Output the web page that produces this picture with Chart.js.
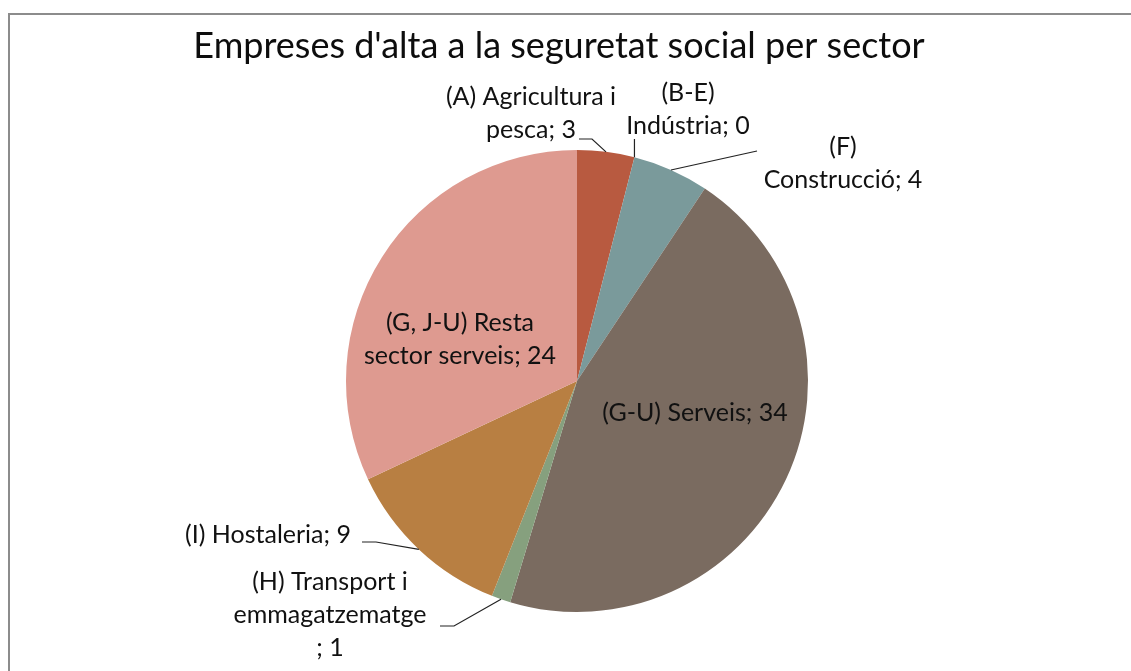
<!DOCTYPE html>
<html>
<head>
<meta charset="utf-8">
<script src="https://cdn.jsdelivr.net/npm/chart.js@4/dist/chart.umd.min.js"></script>
<style>
  html, body { margin: 0; padding: 0; background: #fff; }
  #wrap { position: relative; width: 1131px; height: 671px; }
</style>
</head>
<body>
<div id="wrap"><canvas id="sectorChart" width="1131" height="671"></canvas></div>
<script>
// Dades del gràfic
const titol = "Empreses d'alta a la seguretat social per sector";
const sectors = [
    '(A) Agricultura i\npesca',
    '(B-E)\nIndústria',
    '(F)\nConstrucció',
    '(G-U) Serveis',
    '(H) Transport i\nemmagatzematge\n',
    '(I) Hostaleria',
    '(G, J-U) Resta\nsector serveis'
];
const empreses = [3, 0, 4, 34, 1, 9, 24];
const colors = ['#b85a40', '#4f81bd', '#7a9a9b', '#7a6b60', '#86a07e', '#b87f42', '#de9a90'];

// Posició de les etiquetes (estil, no dades)
const etiquetes = [
    { x: 531, y: 97, leader: [[579, 139], [592, 139]] },
    { x: 688, y: 93, leader: [['edge', 139]] },
    { x: 843, y: 147, leader: [[757, 151]] },
    { x: 695, y: 413, leader: null },
    { x: 330, y: 582, leader: [[440, 626], [454, 626]] },
    { x: 268, y: 535, leader: [[362, 542], [376, 542]] },
    { x: 460, y: 323, leader: null }
];

const etiquetesPlugin = {
    id: 'etiquetes',
    afterDraw(chart) {
        const ctx = chart.ctx;
        const meta = chart.getDatasetMeta(0);
        const vals = chart.data.datasets[0].data;

        // títol
        ctx.save();
        ctx.fillStyle = '#0d0d0d';
        ctx.font = '36px Lato';
        ctx.textAlign = 'center';
        ctx.textBaseline = 'middle';
        ctx.fillText(titol, 559, 46);

        ctx.font = '25px Lato';
        ctx.fillStyle = '#111';
        ctx.strokeStyle = '#222';
        ctx.lineWidth = 1.2;
        meta.data.forEach((arc, i) => {
            const cfg = etiquetes[i];
            const text = chart.data.labels[i] + '; ' + vals[i];
            const lines = text.split('\n');
            lines.forEach((l, k) => ctx.fillText(l, cfg.x, cfg.y + k * 33));

            if (cfg.leader) {
                const mid = (arc.startAngle + arc.endAngle) / 2;
                const ex = arc.x + Math.cos(mid) * arc.outerRadius;
                const ey = arc.y + Math.sin(mid) * arc.outerRadius;
                ctx.beginPath();
                cfg.leader.forEach((p, k) => {
                    const px = p[0] === 'edge' ? ex : p[0];
                    if (k === 0) ctx.moveTo(px, p[1]); else ctx.lineTo(px, p[1]);
                });
                ctx.lineTo(ex, ey);
                ctx.stroke();
            }
        });

        // marc
        ctx.strokeStyle = '#8c8c8c';
        ctx.lineWidth = 2;
        ctx.beginPath();
        ctx.moveTo(9, 671);
        ctx.lineTo(9, 14);
        ctx.lineTo(1131, 14);
        ctx.stroke();
        ctx.restore();
    }
};

new Chart(document.getElementById('sectorChart').getContext('2d'), {
    type: 'pie',
    data: {
        labels: sectors,
        datasets: [{
            data: empreses,
            backgroundColor: colors,
            borderWidth: 0
        }]
    },
    options: {
        responsive: false,
        animation: false,
        layout: { padding: { left: 346, right: 323, top: 150, bottom: 59 } },
        plugins: {
            legend: { display: false },
            title: { display: false },
            tooltip: { enabled: false }
        }
    },
    plugins: [etiquetesPlugin]
});
</script>
</body>
</html>
